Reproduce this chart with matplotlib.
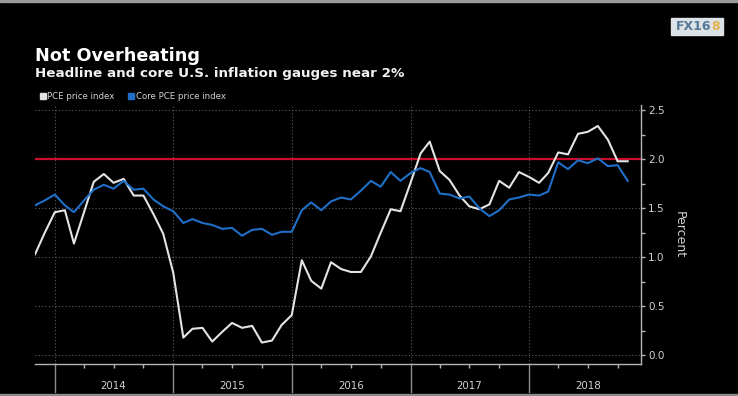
import datetime as dt
import numpy as np
import pandas as pd
import matplotlib
matplotlib.use("Agg")
import matplotlib.pyplot as plt
import matplotlib.dates as mdates
from matplotlib.patches import Rectangle

# oylik qiymatlar, 2013-noyabr .. 2018-noyabr
months = pd.date_range("2013-11-01", periods=61, freq="MS")
pce = [1.03, 1.25, 1.46, 1.48, 1.14, 1.46, 1.77, 1.85, 1.76, 1.80,
       1.63, 1.63, 1.44, 1.24, 0.84, 0.18, 0.27, 0.28, 0.14, 0.24,
       0.33, 0.28, 0.30, 0.13, 0.15, 0.31, 0.41, 0.97, 0.76, 0.68,
       0.95, 0.88, 0.85, 0.85, 1.01, 1.25, 1.49, 1.47, 1.76, 2.06,
       2.18, 1.88, 1.79, 1.63, 1.52, 1.49, 1.54, 1.78, 1.71, 1.87,
       1.82, 1.76, 1.86, 2.07, 2.05, 2.26, 2.28, 2.34, 2.20, 1.98,
       1.98]
core_pce = [1.53, 1.58, 1.64, 1.53, 1.46, 1.58, 1.69, 1.74, 1.70, 1.78,
            1.69, 1.70, 1.59, 1.52, 1.47, 1.35, 1.39, 1.35, 1.33, 1.29,
            1.30, 1.22, 1.28, 1.29, 1.23, 1.26, 1.26, 1.48, 1.56, 1.48,
            1.57, 1.61, 1.59, 1.68, 1.78, 1.72, 1.87, 1.78, 1.86, 1.91,
            1.87, 1.65, 1.64, 1.60, 1.62, 1.50, 1.42, 1.48, 1.59, 1.61,
            1.64, 1.63, 1.67, 1.97, 1.90, 1.99, 1.96, 2.01, 1.93, 1.94,
            1.78]
target = 2.0
years = [2014, 2015, 2016, 2017, 2018]
y_ticks = [0.0, 0.5, 1.0, 1.5, 2.0, 2.5]

W, H = 738, 396
fg = "#d2d2d2"
axis_col = "#b4b4b4"
grid_col = "#5c5c5c"

fig = plt.figure(figsize=(W / 100, H / 100), dpi=100, facecolor="black")
ax = fig.add_axes([35 / W, 1 - 364 / H, (641 - 35) / W, (364 - 105) / H])
ax.set_facecolor("black")

ax.axhline(target, color="#c8102e", lw=1.6, zorder=2)
ax.plot(months, pce, color="#e4e4e4", lw=1.5, zorder=3)
ax.plot(months, core_pce, color="#1f6fc8", lw=1.5, zorder=4)

ax.set_xlim(months[0], dt.datetime(2018, 12, 12))
ax.set_ylim(-0.089, 2.554)

# y o'qi o'ngda
ax.yaxis.tick_right()
ax.set_yticks(y_ticks)
ax.set_yticklabels([f"{v:.1f}" for v in y_ticks])
ax.set_yticks(np.arange(0.25, 2.5, 0.5), minor=True)
ax.tick_params(axis="y", which="both", direction="out", length=3, width=1,
               color=axis_col, labelcolor=fg, labelsize=7.5, pad=2)
ax.grid(axis="y", color=grid_col, linestyle=(0, (1, 2)), lw=0.8)

# x o'qi: yillar, choraklik belgilar
ax.xaxis.set_major_locator(mdates.MonthLocator(bymonth=7))
ax.xaxis.set_major_formatter(mdates.DateFormatter("%Y"))
ax.xaxis.set_minor_locator(mdates.MonthLocator(bymonth=[4, 10]))
ax.tick_params(axis="x", which="both", direction="out", length=3, width=1,
               color=axis_col, labelcolor=fg, labelsize=7.4, pad=9)

for y in years:
    d = dt.datetime(y, 1, 1)
    ax.axvline(d, color=grid_col, linestyle=(0, (1, 2)), lw=0.8, zorder=1)
    ax.plot([d, d], [0, -0.108], transform=ax.get_xaxis_transform(),
            clip_on=False, color="#8c8c8c", lw=1)

for side in ["left", "top"]:
    ax.spines[side].set_visible(False)
for side in ["right", "bottom"]:
    ax.spines[side].set_color(axis_col)
    ax.spines[side].set_linewidth(1)

fig.text(679 / W, 1 - 235 / H, "Percent", rotation=270, ha="center",
         va="center", color=fg, fontsize=9)

# sarlavha
fig.text(35 / W, 1 - 61 / H, "Not Overheating", color="white",
         fontsize=12.7, fontweight="bold", va="baseline")
fig.text(35 / W, 1 - 77.3 / H, "Headline and core U.S. inflation gauges near 2%",
         color="#f2f2f2", fontsize=9.7, fontweight="bold", va="baseline")

# legend
fig.patches.append(Rectangle((40 / W, 1 - 99 / H), 5.5 / W, 6 / H,
                             transform=fig.transFigure, color="#e4e4e4"))
fig.text(47 / W, 1 - 99 / H, "PCE price index", color=fg, fontsize=6.2,
         va="baseline")
fig.patches.append(Rectangle((128 / W, 1 - 99 / H), 5.5 / W, 6 / H,
                             transform=fig.transFigure, color="#1f6fc8"))
fig.text(135.5 / W, 1 - 99 / H, "Core PCE price index", color=fg,
         fontsize=6.2, va="baseline")

# logo
fig.patches.append(Rectangle((671 / W, 1 - 35 / H), 52 / W, 17 / H,
                             transform=fig.transFigure, color="#dde2e6"))
fig.text(676 / W, 1 - 26.5 / H, "FX16", color="#56799a", fontsize=9,
         fontweight="bold", va="center")
fig.text(711.5 / W, 1 - 26.5 / H, "8", color="#e2b251", fontsize=9,
         fontweight="bold", va="center")

# ramka chiziqlari
fig.patches.append(Rectangle((0, 1 - 2 / H), 1, 2 / H,
                             transform=fig.transFigure, color="#9a9a9a"))
fig.patches.append(Rectangle((0, 0), 1, 2 / H,
                             transform=fig.transFigure, color="#8a8a8a"))

fig.savefig("out.png", dpi=100, facecolor="black")
